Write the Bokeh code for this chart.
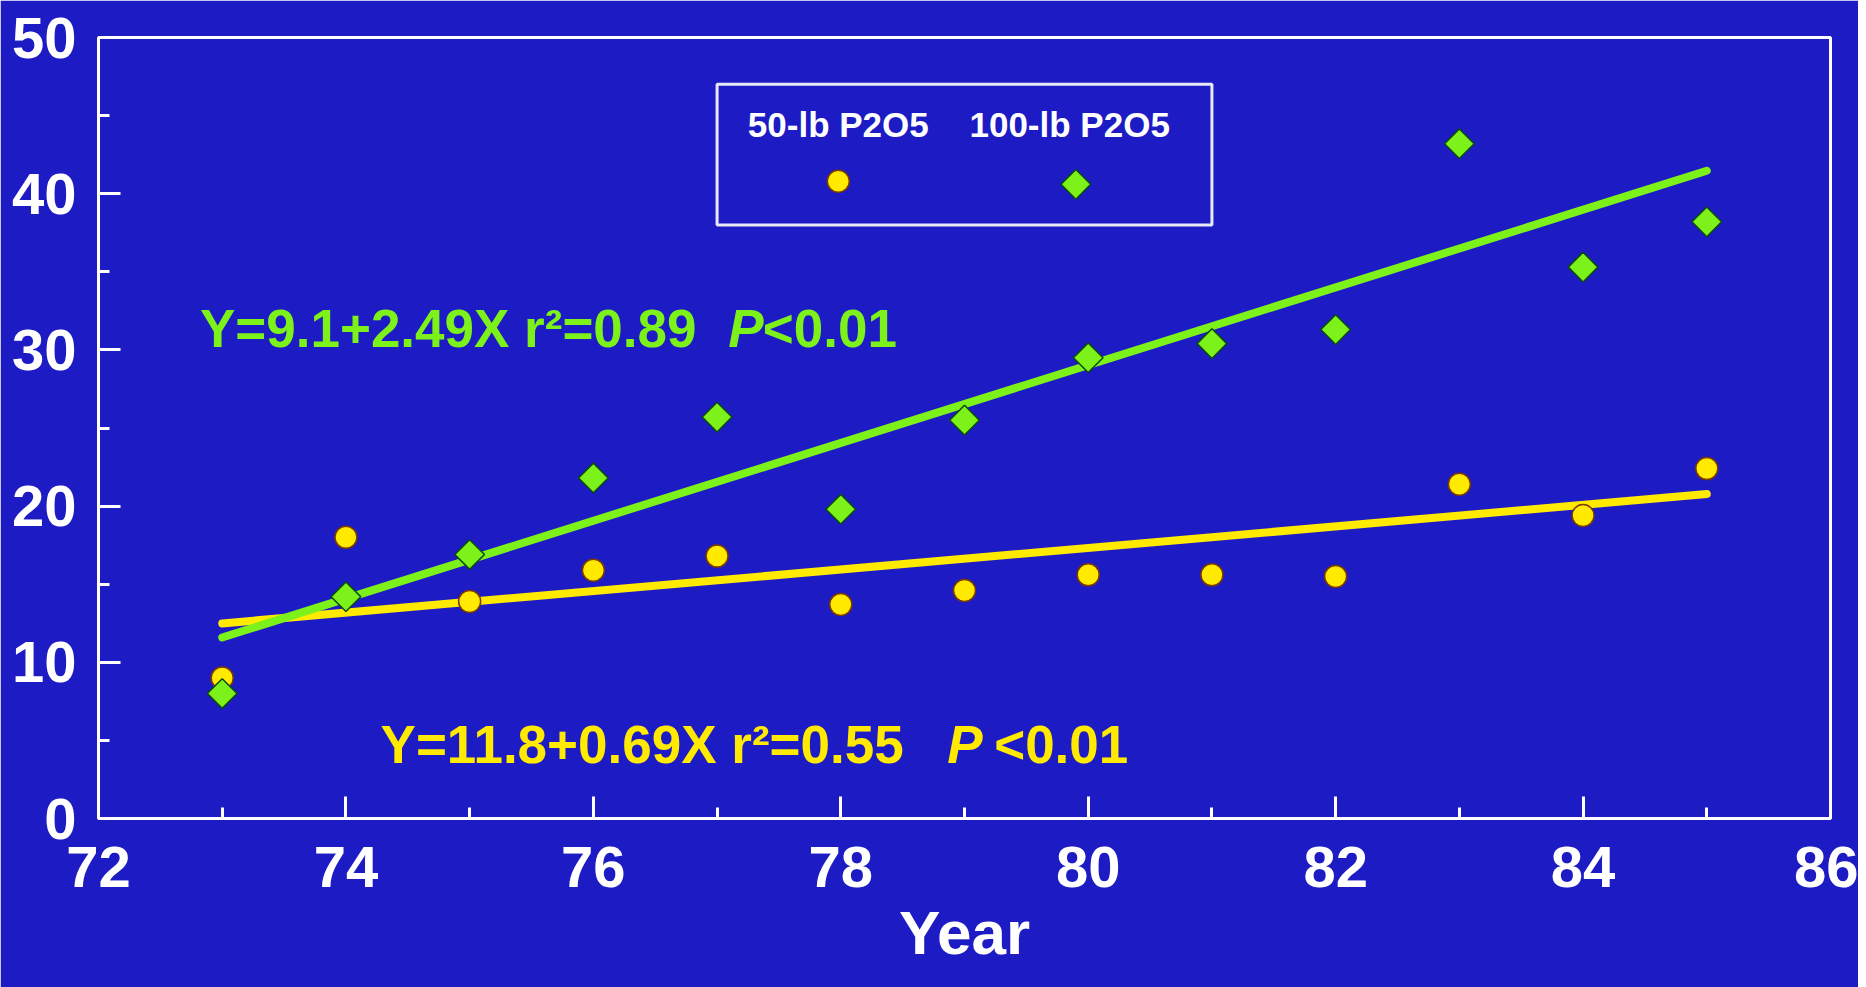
import math
from bokeh.plotting import figure
from bokeh.models import Label, BoxAnnotation, SingleIntervalTicker, ColumnDataSource
from bokeh.embed import file_html
from bokeh.resources import INLINE

# ---- data ----
years = [73, 74, 75, 76, 77, 78, 79, 80, 81, 82, 83, 84, 85]
yield_50lb = [9.0, 18.0, 13.9, 15.9, 16.8, 13.7, 14.6, 15.6, 15.6, 15.5, 21.4, 19.4, 22.4]
yield_100lb = [8.0, 14.2, 16.9, 21.8, 25.7, 19.8, 25.5, 29.5, 30.4, 31.3, 43.2, 35.3, 38.2]
series_names = ["50-lb P2O5", "100-lb P2O5"]
intercepts = [11.8, 9.1]
slopes = [0.69, 2.49]
r2_values = ["0.55", "0.89"]
x_title = "Year"

# ---- styles ----
BG = "#1d1bc4"
YELLOW = "#ffea00"
GREEN = "#7cf21a"
FONT = "Liberation Sans"

p = figure(width=1858, height=987, x_range=(72, 86), y_range=(0, 50),
           output_backend="svg", toolbar_location=None,
           min_border_left=98, min_border_right=28, min_border_top=37, min_border_bottom=169)
p.background_fill_color = BG
p.border_fill_color = BG
p.outline_line_color = "white"
p.outline_line_width = 3
p.grid.visible = False

p.xaxis.ticker = SingleIntervalTicker(interval=2, num_minor_ticks=2)
p.yaxis.ticker = SingleIntervalTicker(interval=10, num_minor_ticks=2)
for ax in (p.xaxis, p.yaxis):
    ax.axis_line_color = "white"
    ax.axis_line_width = 3
    ax.major_tick_line_color = "white"
    ax.minor_tick_line_color = "white"
    ax.major_tick_line_width = 3
    ax.minor_tick_line_width = 3
    ax.major_tick_in = 22
    ax.major_tick_out = 0
    ax.minor_tick_in = 11
    ax.minor_tick_out = 0
    ax.major_label_text_color = "white"
    ax.major_label_text_font = FONT
    ax.major_label_text_font_size = "58px"
    ax.major_label_text_font_style = "bold"
p.xaxis.major_label_standoff = 28
p.yaxis.major_label_standoff = 22
p.xaxis.axis_label = x_title
p.xaxis.axis_label_text_font = FONT
p.xaxis.axis_label_text_font_size = "62px"
p.xaxis.axis_label_text_font_style = "bold"
p.xaxis.axis_label_text_color = "white"
p.xaxis.axis_label_standoff = 8

# regression lines
x_fit = [years[0], years[-1]]
for b0, b1, col in zip(intercepts, slopes, [YELLOW, GREEN]):
    yf = [b0 + b1 * (x - 72) for x in x_fit]
    p.line(x_fit, yf, line_color=col, line_width=8, line_cap="round")

src = ColumnDataSource(dict(x=years, y50=yield_50lb, y100=yield_100lb))
p.scatter("x", "y50", source=src, marker="circle", size=22,
          fill_color=YELLOW, line_color="#7a3a00", line_width=1.5)
p.scatter("x", "y100", source=src, marker="square", angle=math.pi / 4, size=21,
          fill_color=GREEN, line_color="#0b4a10", line_width=1.5)

# legend (manual, labels above symbols)
p.add_layout(BoxAnnotation(left=77, right=81, bottom=38, top=47, fill_alpha=0,
                           line_color="white", line_width=3, line_alpha=0.9))
for lx, name in zip([77.98, 79.85], series_names):
    p.add_layout(Label(x=lx, y=44.4, text=name, text_align="center", text_baseline="middle",
                       text_font=FONT, text_font_size="35px", text_font_style="bold",
                       text_color="white"))
p.scatter([77.98], [40.8], marker="circle", size=22, fill_color=YELLOW, line_color="#7a3a00", line_width=1.5)
p.scatter([79.9], [40.6], marker="square", angle=math.pi / 4, size=21, fill_color=GREEN,
          line_color="#0b4a10", line_width=1.5)

# equations
eq_specs = [
    (0, YELLOW, 74.28, 78.86, 79.24, 4.75),
    (1, GREEN, 72.82, 77.09, 77.37, 31.37),
]
for i, col, x0, xp, xlt, yb in eq_specs:
    main = f"Y={intercepts[i]}+{slopes[i]}X  r\u00b2={r2_values[i]}"
    common = dict(y=yb, text_baseline="alphabetic", text_font=FONT, text_font_size="53px",
                  text_color=col)
    p.add_layout(Label(x=x0, text=main, text_font_style="bold", **common))
    p.add_layout(Label(x=xp, text="P", text_font_style="bold italic", **common))
    p.add_layout(Label(x=xlt, text="<0.01", text_font_style="bold", **common))

open("out.html", "w").write(file_html(p, INLINE))
